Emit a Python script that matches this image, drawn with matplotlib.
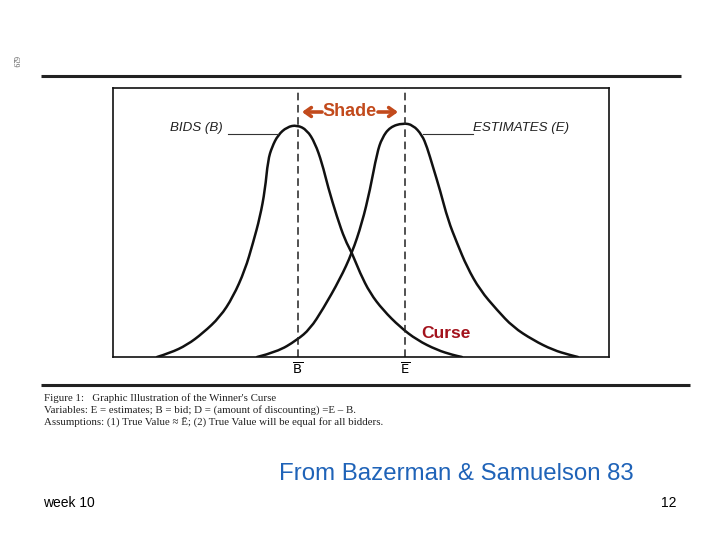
import matplotlib
matplotlib.use("Agg")
import matplotlib.pyplot as plt
from matplotlib.path import Path
from matplotlib.patches import PathPatch

# ---- data (value axis 0..496, density axis 0..269) ----
bids_x = [44, 57, 74, 90, 107, 120, 132, 140, 147, 152, 155, 159, 165, 174, 184,
          194, 202, 209, 215, 224, 232, 239, 247, 257, 270, 287, 304, 324, 340, 349]
bids_y = [0, 4, 12, 24, 40, 60, 87, 114, 140, 167, 197, 210, 222, 230, 232,
          227, 214, 194, 170, 140, 117, 104, 84, 64, 47, 30, 17, 7, 2, 0]

est_x = [144, 164, 184, 197, 210, 227, 239, 249, 257, 264, 269, 277, 290,
         300, 309, 314, 320, 327, 335, 344, 354, 367, 384, 400, 420, 440, 457, 465]
est_y = [0, 5, 17, 28, 48, 78, 104, 134, 167, 204, 219, 230, 234,
         232, 222, 210, 190, 167, 137, 114, 90, 67, 47, 30, 17, 7, 2, 0]

means = [185, 292]
mean_labels = ["$\\mathrm{\\overline{B}}$", "$\\mathrm{\\overline{E}}$"]

curve_labels = ["BIDS (B)", "ESTIMATES (E)"]

caption_lines = [
    "Figure 1:   Graphic Illustration of the Winner's Curse",
    "Variables: E = estimates; B = bid; D = (amount of discounting) =E \u2013 B.",
    "Assumptions: (1) True Value \u2248 \u0112; (2) True Value will be equal for all bidders.",
]

W, H = 720, 540
fig = plt.figure(figsize=(W / 100, H / 100), dpi=100)
fig.patch.set_facecolor("white")

def fx(px):
    return px / W

def fy(py):
    return 1 - py / H

def smooth_path(xs, ys):
    """Quadratic-Bezier rendering through the read points (midpoint scheme)."""
    pts = list(zip(xs, ys))
    verts = [pts[0]]
    codes = [Path.MOVETO]
    for i in range(1, len(pts) - 1):
        mid = ((pts[i][0] + pts[i + 1][0]) / 2, (pts[i][1] + pts[i + 1][1]) / 2)
        verts += [pts[i], mid]
        codes += [Path.CURVE3, Path.CURVE3]
    verts.append(pts[-1])
    codes.append(Path.LINETO)
    return Path(verts, codes)

# main chart axes (box)
left, right, top, bottom = 113, 609, 88, 357
ax = fig.add_axes([fx(left), fy(bottom), (right - left) / W, (bottom - top) / H])
ax.set_xlim(0, 496)
ax.set_ylim(0, 269)
ax.set_facecolor("white")
for s in ax.spines.values():
    s.set_linewidth(1.2)
    s.set_color("#111111")

for xs, ys in [(bids_x, bids_y), (est_x, est_y)]:
    ax.add_patch(PathPatch(smooth_path(xs, ys), facecolor="none",
                           edgecolor="#111111", lw=1.8, capstyle="round",
                           joinstyle="round"))
for m in means:
    ax.axvline(m, color="#222222", lw=1.1, dashes=(5, 3))

ax.set_yticks([])
ax.set_xticks(means)
ax.set_xticklabels(mean_labels, fontsize=9.5, family="DejaVu Sans")
ax.tick_params(axis="x", length=0, pad=3.5)

# leader lines and curve labels
ax.plot([115, 165], [223, 223], color="#333333", lw=0.8)
ax.plot([310, 360], [223, 223], color="#333333", lw=0.8)
ax.text(57, 223.5, curve_labels[0], fontsize=9.6, style="italic", family="Liberation Sans",
        ha="left", va="bottom", color="#222222")
ax.text(360, 223.5, curve_labels[1], fontsize=9.6, style="italic", family="Liberation Sans",
        ha="left", va="bottom", color="#222222")

# overlay axes in pixel coordinates for page decorations (drawn on top)
ov = fig.add_axes([0, 0, 1, 1])
ov.set_zorder(10)
ov.set_xlim(0, W)
ov.set_ylim(H, 0)
ov.axis("off")
ov.plot([41, 681], [76, 76], color="#222222", lw=2.2, solid_capstyle="butt")
ov.plot([41, 690], [385, 385], color="#222222", lw=2.2, solid_capstyle="butt")

# annotations
shade_color = "#c24a1c"
arrow_kw = dict(arrowstyle="->,head_length=0.45,head_width=0.32", lw=2.6,
                color=shade_color, shrinkA=0, shrinkB=0)
ov.annotate("", xy=(302, 112), xytext=(322, 112), arrowprops=arrow_kw)
ov.annotate("", xy=(398, 112), xytext=(378, 112), arrowprops=arrow_kw)
ov.text(350, 112, "Shade", fontsize=13, fontweight="bold",
        family="Liberation Sans", color=shade_color, ha="center", va="center")
ov.text(421, 333, "Curse", fontsize=12.5, fontweight="bold",
        family="Liberation Sans", color="#a3121c", ha="left", va="center")

# caption
for i, line in enumerate(caption_lines):
    ov.text(44, 398 + 12.5 * i, line, fontsize=7.8, family="Liberation Serif",
            color="#222222", ha="left", va="center")

ov.text(15, 62, "629", fontsize=5.5, rotation=270, family="Liberation Serif",
        color="#555555", ha="center", va="center")

ov.text(456, 474, "From Bazerman & Samuelson 83", fontsize=17.3,
        family="Liberation Sans", color="#1f63b8", ha="center", va="center")
ov.text(43, 503, "week 10", fontsize=10, family="Liberation Sans",
        color="black", ha="left", va="center")
ov.text(677, 503, "12", fontsize=10, family="Liberation Sans",
        color="black", ha="right", va="center")

fig.savefig("out.png", dpi=100, facecolor="white")
